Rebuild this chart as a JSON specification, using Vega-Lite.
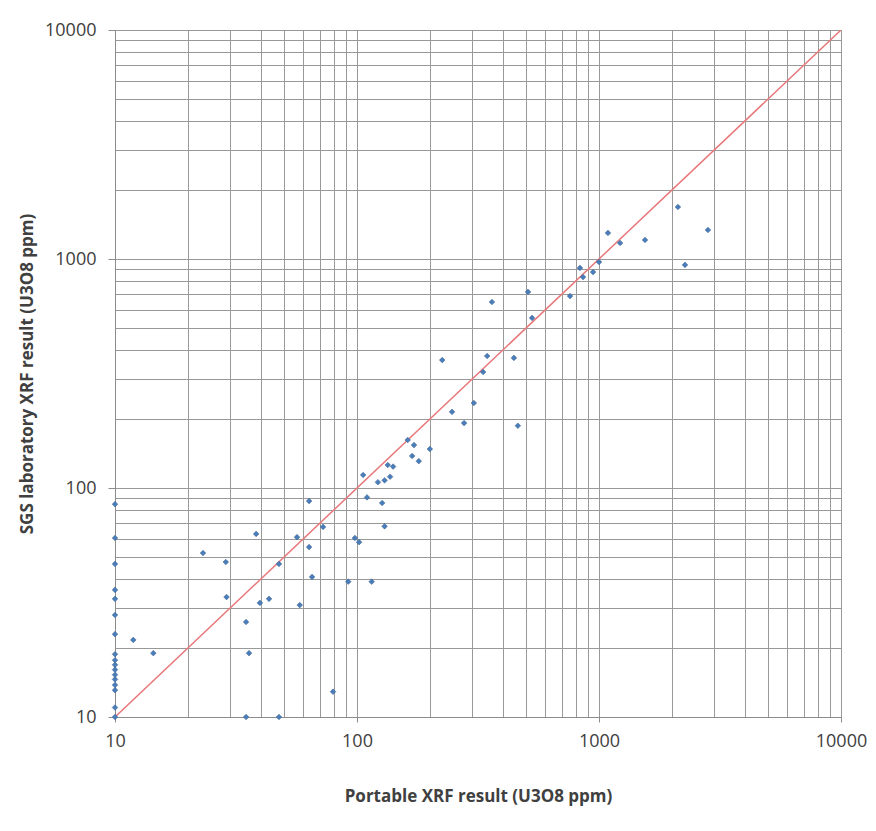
{
  "$schema": "https://vega.github.io/schema/vega-lite/v6.json",
  "autosize": "none",
  "width": 726,
  "height": 687,
  "padding": {"left": 115, "top": 30, "right": 35, "bottom": 114},
  "background": "white",
  "config": {
    "view": {"stroke": "#8c8c8c", "strokeWidth": 1},
    "axis": {
      "labelFont": "Open Sans",
      "titleFont": "Open Sans",
      "labelColor": "#404040",
      "titleColor": "#404040",
      "domainColor": "#8c8c8c",
      "tickColor": "#8c8c8c",
      "gridColor": "#999999",
      "gridWidth": 1,
      "labelFontSize": 18,
      "titleFontSize": 17,
      "titleFontWeight": "bold"
    }
  },
  "datasets": {
    "pts": [
      {"portable": 10, "lab": 85}, {"portable": 10, "lab": 60.5}, {"portable": 10, "lab": 46.6},
      {"portable": 10, "lab": 35.9}, {"portable": 10, "lab": 32.8}, {"portable": 10, "lab": 27.9},
      {"portable": 10, "lab": 23}, {"portable": 10, "lab": 18.8}, {"portable": 10, "lab": 17.7},
      {"portable": 10, "lab": 16.9}, {"portable": 10, "lab": 16.1}, {"portable": 10, "lab": 15.3},
      {"portable": 10, "lab": 14.6}, {"portable": 10, "lab": 13.8}, {"portable": 10, "lab": 13.1},
      {"portable": 10, "lab": 11}, {"portable": 10, "lab": 10},
      {"portable": 11.9, "lab": 21.7}, {"portable": 14.4, "lab": 19}, {"portable": 23.1, "lab": 52},
      {"portable": 28.7, "lab": 47.5}, {"portable": 28.9, "lab": 33.4}, {"portable": 34.8, "lab": 26},
      {"portable": 35.8, "lab": 19}, {"portable": 34.8, "lab": 10}, {"portable": 47.6, "lab": 10},
      {"portable": 38.3, "lab": 63}, {"portable": 39.7, "lab": 31.5}, {"portable": 43.3, "lab": 32.8},
      {"portable": 47.6, "lab": 46.6}, {"portable": 56.5, "lab": 61}, {"portable": 58, "lab": 30.8},
      {"portable": 63.4, "lab": 87.7}, {"portable": 63.4, "lab": 55.2}, {"portable": 65.2, "lab": 40.9},
      {"portable": 72.4, "lab": 67.6}, {"portable": 79.6, "lab": 12.9}, {"portable": 92, "lab": 39},
      {"portable": 115, "lab": 39}, {"portable": 98, "lab": 60.5}, {"portable": 102, "lab": 58},
      {"portable": 106, "lab": 114}, {"portable": 110, "lab": 91}, {"portable": 122, "lab": 106},
      {"portable": 127, "lab": 86}, {"portable": 130, "lab": 68}, {"portable": 130, "lab": 108},
      {"portable": 137, "lab": 112}, {"portable": 134, "lab": 126}, {"portable": 141, "lab": 124},
      {"portable": 162, "lab": 162}, {"portable": 172, "lab": 154}, {"portable": 169, "lab": 138},
      {"portable": 180, "lab": 131}, {"portable": 200, "lab": 148}, {"portable": 225, "lab": 362},
      {"portable": 247, "lab": 215}, {"portable": 277, "lab": 192}, {"portable": 304, "lab": 235},
      {"portable": 332, "lab": 321}, {"portable": 345, "lab": 377}, {"portable": 445, "lab": 370},
      {"portable": 462, "lab": 187}, {"portable": 361, "lab": 649}, {"portable": 509, "lab": 718},
      {"portable": 529, "lab": 553}, {"portable": 759, "lab": 689}, {"portable": 834, "lab": 914},
      {"portable": 859, "lab": 834}, {"portable": 945, "lab": 877}, {"portable": 1000, "lab": 970},
      {"portable": 1089, "lab": 1300}, {"portable": 1222, "lab": 1175}, {"portable": 1549, "lab": 1211},
      {"portable": 2119, "lab": 1687}, {"portable": 2266, "lab": 942}, {"portable": 2819, "lab": 1339}
    ],
    "diag": [{"portable": 10, "lab": 10}, {"portable": 10000, "lab": 10000}]
  },
  "layer": [
    {
      "data": {"name": "diag"},
      "mark": {"type": "line", "color": "#E8777A", "strokeWidth": 1.5, "clip": true},
      "encoding": {
        "x": {
          "field": "portable", "type": "quantitative",
          "scale": {"type": "log", "domain": [10, 10000], "nice": false},
          "axis": {
            "title": "Portable XRF result (U3O8 ppm)",
            "values": [10,20,30,40,50,60,70,80,90,100,200,300,400,500,600,700,800,900,1000,2000,3000,4000,5000,6000,7000,8000,9000,10000],
            "labelExpr": "indexof([10,100,1000,10000], datum.value) >= 0 ? '' + datum.value : ''",
            "tickOpacity": {"condition": {"test": "indexof([10,100,1000,10000], datum.value) >= 0", "value": 1}, "value": 0},
            "tickSize": 5,
            "labelPadding": 10,
            "titlePadding": 38,
            "labelFlush": false,
            "labelOverlap": false,
            "grid": true
          }
        },
        "y": {
          "field": "lab", "type": "quantitative",
          "scale": {"type": "log", "domain": [10, 10000], "nice": false},
          "axis": {
            "title": "SGS laboratory XRF result (U3O8 ppm)",
            "values": [10,20,30,40,50,60,70,80,90,100,200,300,400,500,600,700,800,900,1000,2000,3000,4000,5000,6000,7000,8000,9000,10000],
            "labelExpr": "indexof([10,100,1000,10000], datum.value) >= 0 ? '' + datum.value : ''",
            "tickOpacity": {"condition": {"test": "indexof([10,100,1000,10000], datum.value) >= 0", "value": 1}, "value": 0},
            "tickSize": 7,
            "labelPadding": 12,
            "titlePadding": 8,
            "labelFlush": false,
            "labelOverlap": false,
            "grid": true
          }
        }
      }
    },
    {
      "data": {"name": "pts"},
      "mark": {"type": "point", "shape": "diamond", "filled": true, "size": 32, "color": "#4A7EBB", "opacity": 1, "stroke": "#3b5f8a", "strokeWidth": 0.5},
      "encoding": {
        "x": {"field": "portable", "type": "quantitative"},
        "y": {"field": "lab", "type": "quantitative"}
      }
    }
  ]
}
